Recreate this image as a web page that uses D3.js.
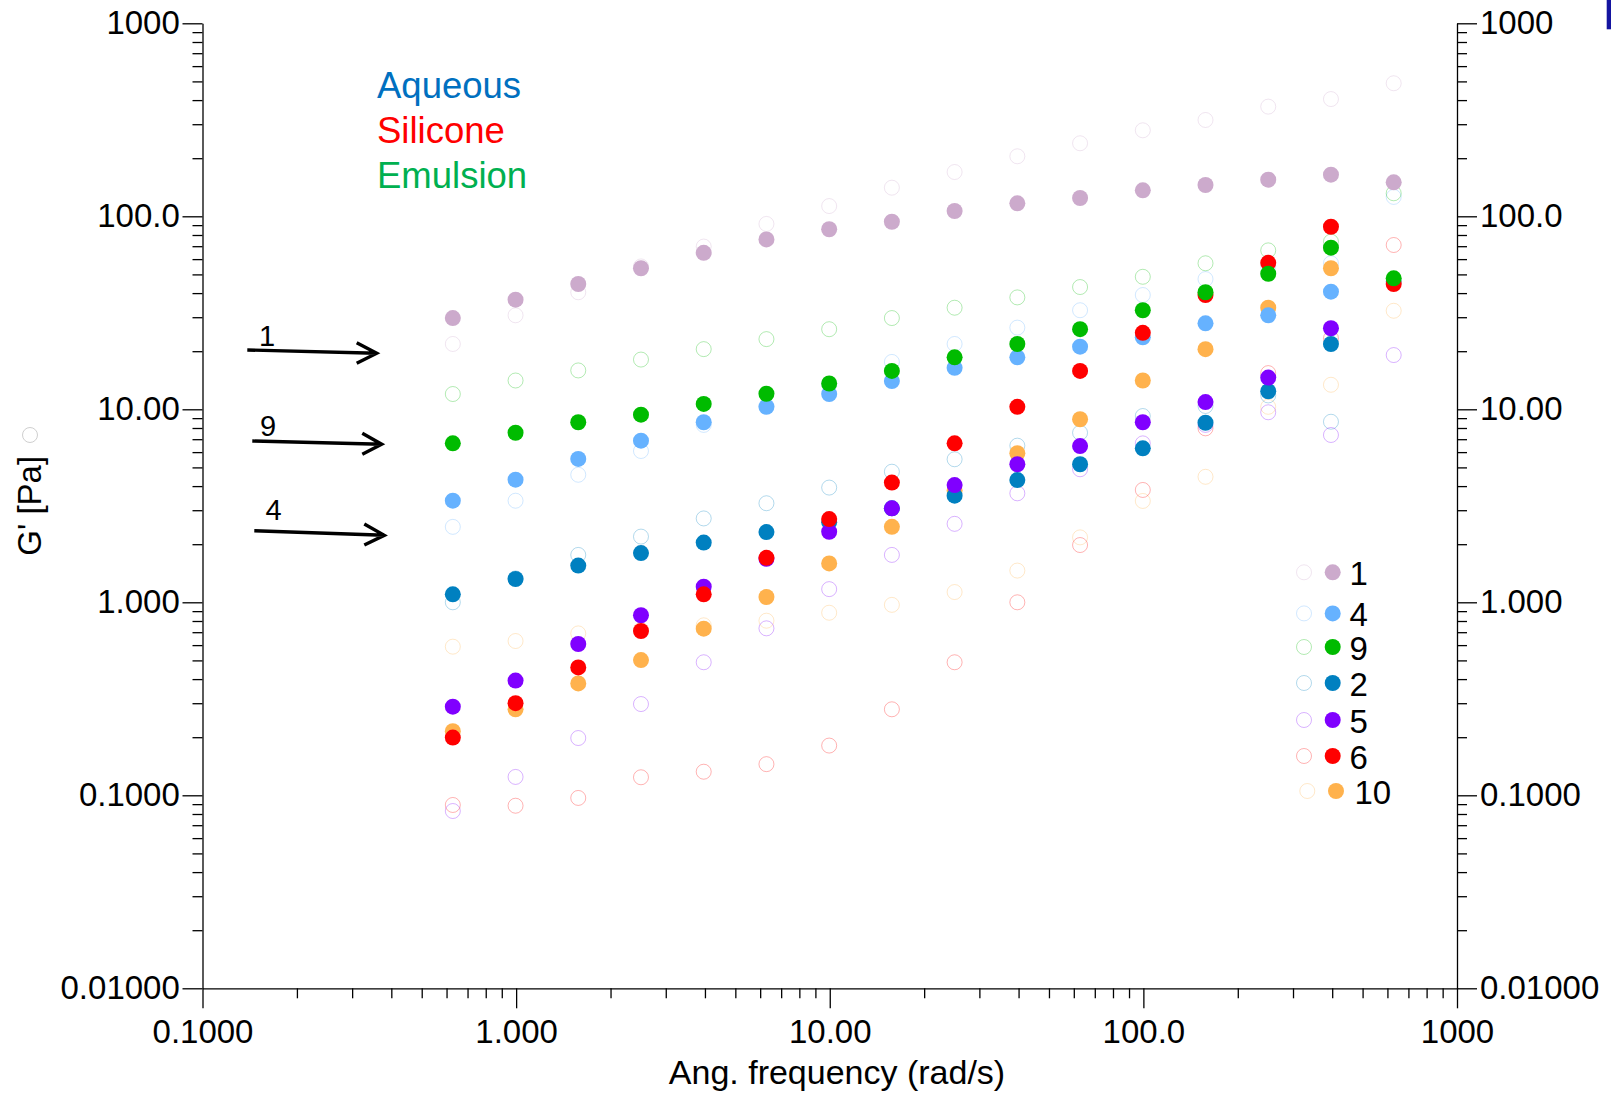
<!DOCTYPE html>
<html>
<head>
<meta charset="utf-8">
<script src="https://cdn.jsdelivr.net/npm/d3@7"></script>
<style>
  body { margin: 0; background: #fff; }
  svg { display: block; }
  text { font-family: "Liberation Sans", Arial, Helvetica, sans-serif; }
</style>
</head>
<body>
<svg id="chart" width="1611" height="1094"></svg>
<script>
// Angular frequency sweep (rad/s), 5 points per decade
const freq = [0.6283, 0.9958, 1.578, 2.501, 3.964, 6.283, 9.958, 15.78, 25.01, 39.64, 62.83, 99.58, 157.8, 250.1, 396.4, 628.3];

// Storage modulus G' (filled) and loss modulus G'' (open) per sample, Pa
const sample1Storage  = [29.7, 37.0, 44.6, 53.8, 64.7, 75.9, 85.7, 93.7, 106.5, 116.8, 124.4, 136.3, 145.3, 154.8, 164.3, 150.0];
const sample1Loss     = [21.8, 30.7, 40.4, 55.0, 69.7, 91.3, 113, 140.7, 169.6, 204.6, 239, 279, 315.5, 370, 405, 489];
const sample4Storage  = [3.36, 4.32, 5.53, 6.88, 8.57, 10.3, 12.0, 14.0, 16.4, 18.6, 21.1, 23.6, 27.9, 30.7, 40.7, 46.0];
const sample4Loss     = [2.46, 3.36, 4.58, 6.08, 8.3, 10.4, 13.5, 17.6, 21.8, 26.5, 32.6, 39.1, 47.3, 55.0, 57.1, 126];
const sample9Storage  = [6.66, 7.56, 8.57, 9.38, 10.66, 12.04, 13.6, 15.8, 18.6, 21.8, 26.0, 32.6, 40.4, 50.4, 68.8, 47.7];
const sample9Loss     = [12.0, 14.1, 15.9, 18.1, 20.5, 23.1, 26.0, 29.7, 33.6, 38.0, 43.0, 48.6, 57.1, 66.6, 73.9, 131.6];
const sample2Storage  = [1.10, 1.32, 1.55, 1.80, 2.04, 2.31, 2.6, 3.07, 3.57, 4.30, 5.19, 6.28, 8.52, 12.4, 21.8, null];
const sample2Loss     = [1.0, 1.33, 1.76, 2.19, 2.72, 3.26, 3.93, 4.75, 5.51, 6.48, 7.56, 9.23, 10.4, 11.8, 8.62, null];
const sample5Storage  = [0.288, 0.393, 0.608, 0.857, 1.205, 1.68, 2.32, 3.07, 4.05, 5.19, 6.45, 8.57, 10.9, 14.6, 26.3, null];
const sample5Loss     = [0.0829, 0.1245, 0.198, 0.297, 0.489, 0.733, 1.17, 1.76, 2.55, 3.67, 4.89, 6.66, 8.3, 9.65, 7.36, 19.1];
const sample6Storage  = [0.199, 0.300, 0.460, 0.710, 1.10, 1.70, 2.70, 4.17, 6.66, 10.3, 15.8, 24.9, 39.1, 57.4, 88.3, 44.6];
const sample6Loss     = [0.0891, 0.0883, 0.0969, 0.124, 0.1325, 0.145, 0.181, 0.279, 0.489, 1.0, 1.98, 3.82, 7.97, 15.4, 23.3, 71.0];
const sample10Storage = [0.215, 0.279, 0.380, 0.502, 0.730, 1.065, 1.59, 2.46, 3.8, 5.92, 8.88, 14.1, 20.5, 33.6, 53.8, null];
const sample10Loss    = [0.589, 0.630, 0.690, 0.72, 0.76, 0.803, 0.883, 0.97, 1.13, 1.46, 2.17, 3.35, 4.47, 10.3, 13.4, 32.4];

// Legend order and drawing order (bottom to top)
const legendSamples = ["1", "4", "9", "2", "5", "6", "10"];
const drawOrder     = ["10", "2", "5", "4", "6", "9", "1"];

// Axis ticks
const xTickValues = [0.1, 1, 10, 100, 1000];
const xTickLabels = ["0.1000", "1.000", "10.00", "100.0", "1000"];
const yTickValues = [0.01, 0.1, 1, 10, 100, 1000];
const yTickLabels = ["0.01000", "0.1000", "1.000", "10.00", "100.0", "1000"];

// Text
const xTitle = "Ang. frequency (rad/s)";
const yTitle = "G' [Pa]";
const mediumLabels = ["Aqueous", "Silicone", "Emulsion"];
const arrowLabels  = ["1", "9", "4"];

// ---- styling ----
const colors = {
  "1": "#CCAACC", "4": "#66B2FF", "9": "#00BB00", "2": "#0080C0",
  "5": "#8000FF", "6": "#FF0000", "10": "#FFB24D"
};
const mediumColors = ["#0070C0", "#FF0000", "#00B050"];
const series = {
  "1":  { storage: sample1Storage,  loss: sample1Loss },
  "4":  { storage: sample4Storage,  loss: sample4Loss },
  "9":  { storage: sample9Storage,  loss: sample9Loss },
  "2":  { storage: sample2Storage,  loss: sample2Loss },
  "5":  { storage: sample5Storage,  loss: sample5Loss },
  "6":  { storage: sample6Storage,  loss: sample6Loss },
  "10": { storage: sample10Storage, loss: sample10Loss }
};

const W = 1611, H = 1094;
const plot = { left: 202.5, right: 1457, top: 23.3, bottom: 988.3 };
const R = 8;
const FS = 33;
const RING_OPACITY = 0.3;

const svg = d3.select("#chart");
svg.append("rect").attr("width", W).attr("height", H).attr("fill", "#fff");

const x = d3.scaleLog().domain([0.1, 1000]).range([plot.left, plot.right]);
const y = d3.scaleLog().domain([0.01, 1000]).range([plot.bottom, plot.top]);

function minorTicks(domain) {
  const out = [];
  for (let e = Math.log10(domain[0]); e < Math.log10(domain[1]); e++) {
    for (let k = 2; k <= 9; k++) out.push(k * Math.pow(10, e));
  }
  return out;
}

function styleAxis(g) {
  g.attr("font-size", FS).attr("font-family", '"Liberation Sans", Arial, sans-serif');
  g.selectAll("path, line").attr("stroke", "#000").attr("stroke-width", 1.3);
  g.selectAll("text").attr("fill", "#000");
}

const xLabel = d3.scaleOrdinal().domain(xTickValues).range(xTickLabels);
const yLabel = d3.scaleOrdinal().domain(yTickValues).range(yTickLabels);

// bottom axis
svg.append("g").attr("transform", `translate(0,${plot.bottom})`)
  .call(d3.axisBottom(x).tickValues(minorTicks(x.domain())).tickSize(10).tickFormat("").tickSizeOuter(0))
  .call(g => g.select(".domain").remove()).call(styleAxis);
svg.append("g").attr("transform", `translate(0,${plot.bottom})`)
  .call(d3.axisBottom(x).tickValues(xTickValues).tickSize(20).tickPadding(11).tickSizeOuter(0).tickFormat(d => xLabel(d)))
  .call(styleAxis);

// left axis
svg.append("g").attr("transform", `translate(${plot.left},0)`)
  .call(d3.axisLeft(y).tickValues(minorTicks(y.domain())).tickSize(10).tickFormat("").tickSizeOuter(0))
  .call(g => g.select(".domain").remove()).call(styleAxis);
svg.append("g").attr("transform", `translate(${plot.left},0)`)
  .call(d3.axisLeft(y).tickValues(yTickValues).tickSize(20).tickPadding(2.7).tickSizeOuter(0).tickFormat(d => yLabel(d)))
  .call(styleAxis);

// right axis
svg.append("g").attr("transform", `translate(${plot.right},0)`)
  .call(d3.axisRight(y).tickValues(minorTicks(y.domain())).tickSize(10).tickFormat("").tickSizeOuter(0))
  .call(g => g.select(".domain").remove()).call(styleAxis);
svg.append("g").attr("transform", `translate(${plot.right},0)`)
  .call(d3.axisRight(y).tickValues(yTickValues).tickSize(20).tickPadding(3).tickSizeOuter(0).tickFormat(d => yLabel(d)))
  .call(styleAxis);

// axis titles
svg.append("text").attr("x", 837).attr("y", 1084).attr("text-anchor", "middle")
  .attr("font-size", 34).attr("fill", "#000").text(xTitle);
svg.append("text").attr("transform", `translate(41,${(plot.top + plot.bottom) / 2}) rotate(-90)`)
  .attr("text-anchor", "middle").attr("font-size", FS).attr("fill", "#000").text(yTitle);
svg.append("circle").attr("cx", 30).attr("cy", 435).attr("r", 7.5)
  .attr("fill", "none").attr("stroke", "#cfcfcf").attr("stroke-width", 1);

// data layers: open rings (G'') underneath, filled dots (G') on top
const pts = (arr) => arr.map((v, i) => ({ f: freq[i], v })).filter(d => d.v != null);

const lossLayer = svg.append("g");
const storageLayer = svg.append("g");
drawOrder.forEach(key => {
  lossLayer.append("g").selectAll("circle").data(pts(series[key].loss)).join("circle")
    .attr("cx", d => x(d.f)).attr("cy", d => y(d.v)).attr("r", R - 0.5)
    .attr("fill", "none").attr("stroke", colors[key]).attr("stroke-opacity", RING_OPACITY).attr("stroke-width", 1);
});
drawOrder.forEach(key => {
  storageLayer.append("g").selectAll("circle").data(pts(series[key].storage)).join("circle")
    .attr("cx", d => x(d.f)).attr("cy", d => y(d.v)).attr("r", R)
    .attr("fill", colors[key]);
});

// medium labels
const medium = svg.append("g").attr("font-size", 36.5);
mediumLabels.forEach((t, i) => {
  medium.append("text").attr("x", 377).attr("y", 97.7 + i * 45).attr("fill", mediumColors[i]).text(t);
});

// annotation arrows
const arrows = [
  { x0: 247.3, y0: 350.0, x1: 376.7, y1: 353.3, hx: 356.7, hy0: 342.7, hy1: 363.3, tx: 259, ty: 345.7 },
  { x0: 252.3, y0: 441.0, x1: 381.7, y1: 444.3, hx: 362.3, hy0: 433.3, hy1: 454.3, tx: 260, ty: 436 },
  { x0: 254.3, y0: 530.7, x1: 384.3, y1: 535.3, hx: 364.3, hy0: 524.0, hy1: 545.0, tx: 265.5, ty: 520 }
];
const arrowG = svg.append("g");
arrows.forEach((a, i) => {
  arrowG.append("path")
    .attr("d", `M${a.x0},${a.y0}L${a.x1},${a.y1}M${a.hx},${a.hy0}L${a.x1},${a.y1}L${a.hx},${a.hy1}`)
    .attr("fill", "none").attr("stroke", "#000").attr("stroke-width", 3.4).attr("stroke-linejoin", "miter");
  arrowG.append("text").attr("x", a.tx).attr("y", a.ty).attr("font-size", 29).attr("fill", "#000").text(arrowLabels[i]);
});

// sample legend
const legendRowY = [572.3, 613.4, 647.0, 683.0, 720.0, 756.0, 791.0];
const legend = svg.append("g");
legendSamples.forEach((key, i) => {
  const dx = key === "10" ? 3.3 : 0;
  const cy = legendRowY[i];
  legend.append("circle").attr("cx", 1304 + dx).attr("cy", cy).attr("r", R - 0.5)
    .attr("fill", "none").attr("stroke", colors[key]).attr("stroke-opacity", RING_OPACITY).attr("stroke-width", 1);
  legend.append("circle").attr("cx", 1332.7 + dx).attr("cy", cy).attr("r", R).attr("fill", colors[key]);
  legend.append("text").attr("x", 1349.5 + dx * 1.5).attr("y", cy + 12.5).attr("font-size", FS).attr("fill", "#000").text(key);
});

// corner mark
svg.append("rect").attr("x", 1606.7).attr("y", 0).attr("width", 4.3).attr("height", 29.3).attr("fill", "#1414A0");
</script>
</body>
</html>
